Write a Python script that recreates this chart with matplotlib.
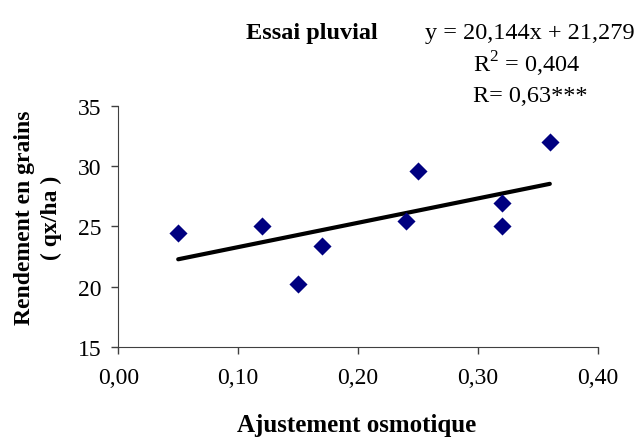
import matplotlib
matplotlib.use("Agg")
import matplotlib.pyplot as plt
from matplotlib.ticker import FuncFormatter

x_vals = [0.05, 0.12, 0.15, 0.17, 0.24, 0.25, 0.32, 0.32, 0.36]
y_vals = [24.5, 25.0, 20.25, 23.4, 25.45, 29.6, 26.95, 25.0, 32.0]
slope = 20.144
intercept = 21.279
x_ticks = [0.0, 0.1, 0.2, 0.3, 0.4]
y_ticks = [15, 20, 25, 30, 35]

plt.rcParams['font.family'] = ['Liberation Serif', 'DejaVu Serif']
plt.rcParams['mathtext.fontset'] = 'custom'
plt.rcParams['mathtext.rm'] = 'Liberation Serif'

fig = plt.figure(figsize=(6.4, 4.39), dpi=100)
ax = fig.add_axes([0.1848, 0.2066, 0.934 - 0.1848, 0.757 - 0.2066])

ax.scatter(x_vals, y_vals, marker='D', s=85, color='#000080', zorder=3, linewidths=0)
xl = [min(x_vals), max(x_vals)]
ax.plot(xl, [slope * v + intercept for v in xl], color='black', lw=3, solid_capstyle='round', zorder=2)

ax.set_xlim(0, 0.4)
ax.set_ylim(15, 35)
ax.set_xticks(x_ticks)
ax.set_yticks(y_ticks)
ax.xaxis.set_major_formatter(FuncFormatter(lambda v, p: f"{v:.2f}".replace('.', ',')))
ax.tick_params(direction='out', length=5, width=1, labelsize=17, color='#404040')
ax.tick_params(axis='x', pad=9)
ax.tick_params(axis='y', pad=7)
ax.spines['top'].set_visible(False)
ax.spines['right'].set_visible(False)
for s in ['left', 'bottom']:
    ax.spines[s].set_color('#404040')

fig.text(357 / 640, 1 - 426 / 439, 'Ajustement osmotique', ha='center', va='center', fontsize=18, fontweight='bold')
fig.text(38 / 640, 1 - 218 / 439, 'Rendement en grains\n( qx/ha )', ha='center', va='center',
         rotation=90, fontsize=17, fontweight='bold', linespacing=1.35)
fig.text(312 / 640, 1 - 33 / 439, 'Essai pluvial', ha='center', va='center', fontsize=17.5, fontweight='bold')
fig.text(530 / 640, 1 - 33 / 439, 'y = 20,144x + 21,279', ha='center', va='center', fontsize=17.5)
fig.text(527 / 640, 1 - 64 / 439, 'R$^{2}$ = 0,404', ha='center', va='center', fontsize=17.5)
fig.text(530 / 640, 1 - 96 / 439, 'R= 0,63***', ha='center', va='center', fontsize=17.5)

fig.savefig('out.png', dpi=100)
